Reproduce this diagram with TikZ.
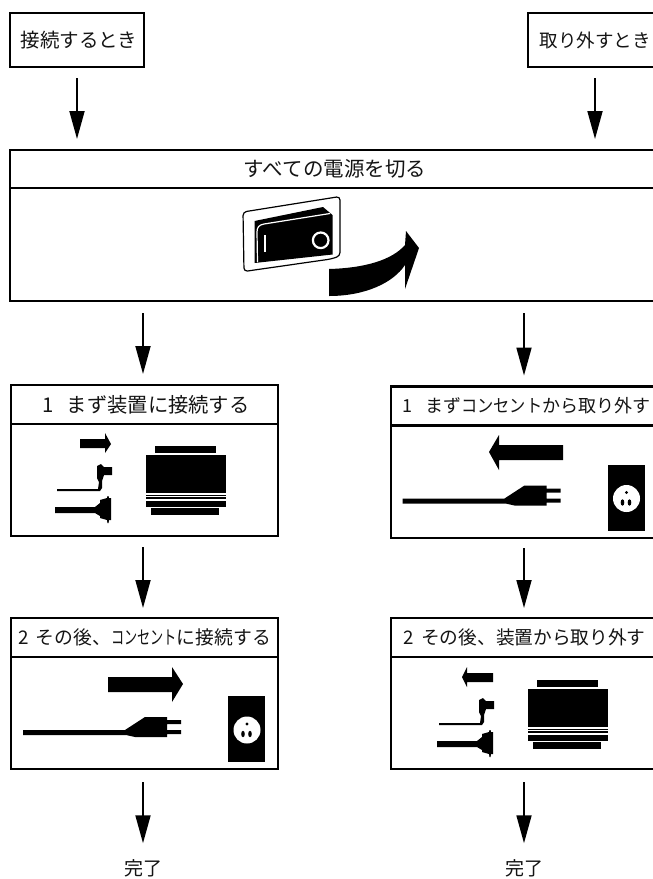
\documentclass[tikz,border=0pt]{standalone}
\usepackage{fontspec}
\usepackage{graphicx}
\setmainfont{Noto Sans CJK JP}
\usetikzlibrary{arrows.meta}
\newcommand{\kon}[2]{\scalebox{#1}[1]{#2}}
\newcommand{\fsz}[1]{\fontsize{#1}{22}\selectfont}
\tikzset{
  boxbase/.style={draw=black,line width=2.2pt,fill=white,inner sep=0pt,outer sep=0pt,text=black!92},
  startbox/.style={boxbase,minimum width=133.5pt,minimum height=54pt},
  widehead/.style={boxbase,minimum width=650pt,minimum height=38pt},
  widebody/.style={boxbase,minimum width=650pt,minimum height=113pt},
  stephead/.style={boxbase,minimum width=267pt,minimum height=39pt},
  stepbody/.style={boxbase,minimum width=267pt},
  endlabel/.style={inner sep=0pt,outer sep=0pt,text=black!92},
  flow/.style={draw=black,line width=1.8pt,-{Triangle[length=28pt,width=15pt]},shorten <=11pt,shorten >=11pt},
  device/.pic={
    \fill (155,446) rectangle (216,453);
    \fill (146,455) rectangle (226,493);
    \fill (146,494.5) rectangle (226,496);
    \fill (146,497) rectangle (226,498.8);
    \fill (146,501) rectangle (226,507);
    \fill (151,508) rectangle (219,515);
    % L-shaped plug
    \fill (57,489) -- (98,489) -- (99,482) -- (97,478) -- (97,466) -- (101,464) -- (104,467) -- (112,467) -- (112,475) -- (104,475) -- (102,481) -- (102,488) -- (100,491) -- (57,491) -- cycle;
    % thick cable with D connector
    \fill (55,507) -- (95,507) -- (100,503) -- (100,500) -- (107,498) -- (107.5,496) -- (108.5,496) -- (109,498) -- (111,498) -- (111,520) -- (109,520) -- (108.5,523) -- (107.5,523) -- (107,520) -- (100,518) -- (100,516) -- (95,513) -- (55,513) -- cycle;
  },
  mainsplug/.pic={
    \fill (23,730) -- (125,730) -- (145,717) -- (167,717) -- (167,720) -- (181,720) -- (181,724) -- (167,724) -- (167,730) -- (181,730) -- (181,734) -- (167,734) -- (167,737) -- (135,737) -- (126,735) -- (23,735) -- cycle;
    \fill (228,696) rectangle (265,762);
    \fill[white] (247,730) circle (13.5);
    \fill (247,724) circle (1.7);
    \fill (243,734) ellipse (1.8 and 3.2);
    \fill (250,734) ellipse (1.8 and 3.2);
  }
}
\begin{document}
\begin{tikzpicture}[x=1pt,y=-1pt]
\useasboundingbox (0,0) rectangle (653,879);
\fill[white] (0,0) rectangle (653,879);
\coordinate (cl) at (143,0);
\coordinate (cr) at (524,0);

\node[startbox] (a) at (77,40) {\fsz{19.5}\hspace{4pt}接続するとき};
\node[startbox] (b) at (595,40) {\fsz{18.5}取り外すとき};
\node[widehead] (mh) at (335,169) {\fsz{20.5}すべての電源を切る};
\node[widebody] (mb) at (335,244.5) {};

\node[stephead] (l1h) at (144.5,404.5) {\fsz{20.3}\hspace{3pt}1\hspace{0.65em}まず装置に接続する};
\node[stepbody,minimum height=112pt] (l1b) at (144.5,480) {};
\node[stephead] (r1h) at (524.5,406) {\fsz{18}\hspace{4pt}1\hspace{0.7em}まず\kon{0.9}{コンセント}から取り外す};
\node[stepbody,minimum height=112pt] (r1b) at (524.5,482) {};
\node[stephead] (l2h) at (144.5,637.5) {\fsz{18.8}2\hspace{0.4em}その後、\kon{0.7}{コンセント}に接続する};
\node[stepbody,minimum height=112pt] (l2b) at (144.5,713) {};
\node[stephead] (r2h) at (524.5,637.5) {\fsz{18.7}2\hspace{0.4em}その後、装置から取り外す};
\node[stepbody,minimum height=112pt] (r2b) at (524.5,713) {};
\node[endlabel] (le) at (143,868) {\fsz{19}完了};
\node[endlabel] (re) at (524,868) {\fsz{19}完了};

\draw[flow] (a.south) -- (a.south |- mh.north);
\draw[flow] (b.south) -- (b.south |- mh.north);
\draw[flow,shorten <=12pt] (cl |- mb.south) -- (cl |- l1h.north);
\draw[flow,shorten <=12pt] (cr |- mb.south) -- (cr |- r1h.north);
\draw[flow,shorten >=10pt] (cl |- l1b.south) -- (cl |- l2h.north);
\draw[flow,shorten <=10pt,shorten >=10pt] (cr |- r1b.south) -- (cr |- r2h.north);
\draw[flow,shorten <=13pt,shorten >=16pt] (cl |- l2b.south) -- (cl |- le.north);
\draw[flow,shorten <=13pt,shorten >=16pt] (cr |- r2b.south) -- (cr |- re.north);

% rocker switch
\draw[black,line width=1.2pt,rounded corners=3.5pt,fill=white] (243,212) -- (340,196.5) -- (340,256) -- (331,259) -- (244,271.5) -- cycle;
\fill[black] (254.5,221) -- (323,207) -- (332.5,215) -- (332.5,254.5) -- (254.5,263) -- cycle;
\draw[white,line width=1.2pt] (257.5,262) -- (257,232) .. controls (257,227) and (259,225) .. (264,224) -- (330,213.5);
\draw[white,line width=1.8pt] (265,235) -- (265,252);
\draw[white,line width=2.2pt] (320.7,240.3) circle (7.8);
\fill[black] (329,269) .. controls (365,268) and (392,260) .. (405,245) -- (406,231) -- (419,248) -- (405,289) -- (405,265) .. controls (393,283) and (365,296) .. (329,296) -- cycle;

% left step 1
\fill (80,439) -- (105,439) -- (105,433) -- (111,444) -- (105,453) -- (105,448) -- (80,448) -- cycle;
\pic {device};
% left step 2
\fill (108,677) -- (172,677) -- (172,667) -- (183,684) -- (172,702) -- (172,692) -- (108,692) -- cycle;
\pic {mainsplug};
% right step 1
\fill (563,445) -- (499,445) -- (499,435) -- (489,452) -- (499,470) -- (499,460) -- (563,460) -- cycle;
\begin{scope}[shift={(379.5,-231.5)}]
\pic {mainsplug};
\end{scope}
% right step 2
\fill (493,673) -- (467,673) -- (467,667) -- (462,677) -- (467,687) -- (467,682) -- (493,682) -- cycle;
\begin{scope}[shift={(382,234)}]
\pic {device};
\end{scope}
\end{tikzpicture}
\end{document}
